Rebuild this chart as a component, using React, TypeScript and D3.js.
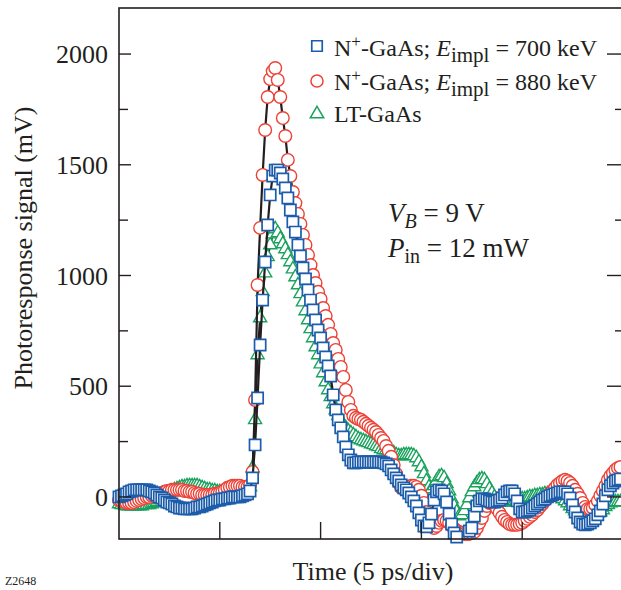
import React from "react";
import * as d3 from "d3";

// time step between samples (ps); traces start at t = 0
const dtPs = 0.125;

const xTicks = [5, 10, 15, 20];
const yTicks = [0, 500, 1000, 1500, 2000];
const yMinorTicks = [250, 750, 1250, 1750];

// N+-GaAs, E_impl = 700 keV (mV)
const blue700 = [
  0, 5, 9, 14, 23, 27, 32, 32, 32, 32,
  32, 32, 27, 23, 18, 9, 0, -5, -14, -23,
  -27, -32, -41, -45, -50, -50, -54, -54, -54, -54,
  -50, -45, -45, -41, -36, -32, -27, -23, -18, -14,
  -14, -9, -9, -5, -5, 0, 0, 0, 0, 5,
  9, 14, 27, 86, 235, 447, 686, 889, 1061, 1228,
  1364, 1449, 1476, 1476, 1463, 1436, 1395, 1350, 1296, 1242,
  1196, 1138, 1088, 1034, 984, 935, 889, 844, 799, 754,
  718, 673, 632, 591, 546, 461, 393, 348, 312, 271,
  226, 190, 167, 154, 154, 158, 158, 158, 158, 158,
  158, 158, 158, 158, 158, 154, 149, 140, 122, 104,
  86, 72, 54, 41, 32, 18, 0, -18, -41, -72,
  -104, -131, -135, -117, -77, -14, 23, 32, 27, 14,
  -23, -77, -122, -163, -181, -230, -260, -250, -215, -154,
  -140, -86, -41, -18, -9, -9, -14, -18, -23, -23,
  -18, -14, -5, 9, 23, 27, 27, 14, -18, -54,
  -68, -68, -63, -59, -50, -41, -32, -23, -14, -9,
  0, 5, 9, 14, 18, 23, 23, 23, 14, -5,
  -36, -68, -95, -113, -122, -126, -122, -117, -108, -99,
  -81, -63, -32, 5, 32, 50, 63, 72, 77, 81,
];

// N+-GaAs, E_impl = 880 keV (mV)
const red880 = [
  -14, -18, -23, -27, -27, -27, -23, -18, -14, -9,
  -5, 0, 0, 5, 5, 9, 14, 18, 23, 27,
  27, 32, 32, 32, 32, 32, 27, 27, 23, 23,
  18, 14, 14, 9, 9, 9, 9, 9, 14, 14,
  18, 23, 32, 41, 45, 50, 50, 50, 50, 45,
  45, 45, 54, 113, 438, 957, 1215, 1454, 1657, 1806,
  1887, 1923, 1937, 1883, 1806, 1711, 1630, 1522, 1449, 1377,
  1327, 1278, 1233, 1183, 1138, 1093, 1047, 1002, 966, 926,
  894, 853, 817, 777, 736, 695, 664, 623, 587, 542,
  483, 429, 393, 366, 357, 352, 348, 339, 330, 321,
  312, 303, 293, 280, 266, 253, 230, 208, 181, 144,
  104, 63, 41, 36, 41, 45, 50, 50, 45, 32,
  5, -27, -68, -108, -131, -140, -131, -117, -108, -104,
  -108, -117, -131, -144, -153, -158, -163, -167, -167, -167,
  -163, -158, -140, -117, -95, -63, -41, -27, -27, -36,
  -54, -72, -90, -104, -113, -122, -126, -126, -126, -122,
  -117, -108, -99, -90, -81, -68, -59, -45, -32, -18,
  -5, 14, 27, 41, 54, 63, 72, 77, 72, 63,
  50, 32, 14, -5, -27, -45, -54, -54, -50, -36,
  -18, 5, 27, 50, 77, 95, 108, 122, 131, 135,
];

// LT-GaAs (mV)
const greenLT = [
  -32, -36, -36, -41, -41, -41, -41, -41, -41, -41,
  -36, -36, -36, -32, -27, -23, -14, -9, 0, 9,
  18, 23, 32, 36, 41, 45, 45, 50, 50, 50,
  50, 50, 45, 41, 36, 32, 32, 27, 27, 23,
  23, 18, 18, 18, 18, 18, 18, 18, 18, 18,
  23, 27, 45, 131, 348, 641, 808, 926, 1011, 1084,
  1138, 1187, 1210, 1192, 1165, 1142, 1120, 1093, 1061, 1029,
  993, 957, 917, 880, 840, 799, 759, 718, 677, 641,
  600, 560, 519, 483, 452, 420, 393, 366, 343, 325,
  312, 298, 289, 280, 271, 262, 257, 253, 248, 244,
  239, 235, 230, 226, 217, 212, 212, 208, 203, 199,
  190, 185, 185, 190, 190, 190, 190, 185, 176, 158,
  135, 104, 72, 45, 36, 50, 72, 90, 95, 86,
  59, 27, -9, -41, -68, -86, -81, -63, -36, -5,
  23, 45, 63, 77, 81, 77, 59, 36, 18, 0,
  -14, -18, -23, -23, -23, -23, -18, -18, -14, -14,
  -9, -9, -5, 0, 0, 5, 5, 9, 9, 14,
  14, 14, 14, 9, 5, 0, -9, -18, -27, -41,
  -54, -63, -72, -77, -81, -81, -81, -81, -81, -77,
  -72, -68, -59, -45, -36, -27, -23, -23, -23, -23,
];

const INK = "#231f20";
const FONT = "'Liberation Serif', 'Times New Roman', serif";

const x = d3.scaleLinear().domain([0, 25]).range([119, 623]);
const y = d3.scaleLinear().domain([-190, 2208]).range([539, 8]);

const series = [
  { key: "lt", values: greenLT, color: "#1ba25f", symbol: d3.symbolTriangle, size: 74, sw: 1.4 },
  { key: "880", values: red880, color: "#ee4136", symbol: d3.symbolCircle, size: 125, sw: 1.4 },
  { key: "700", values: blue700, color: "#1c5dab", symbol: d3.symbolSquare, size: 125, sw: 1.7 },
];

const inside = (v: number) => v >= y.domain()[0];

const App = () => {
  const line = d3
    .line<number>()
    .defined((v) => inside(v))
    .x((_, i) => x(i * dtPs))
    .y((v) => y(v));

  return (
    <svg
      width={621}
      height={590}
      style={{ position: "absolute", left: 0, top: 0, background: "#fff" }}
      fontFamily={FONT}
      fill={INK}
    >
      {/* data */}
      {series.map((s) => {
        const sym = d3.symbol().type(s.symbol).size(s.size)();
        return (
          <g key={s.key}>
            <path d={line(s.values) || ""} fill="none" stroke={INK} strokeWidth={2.2} />
            {s.values.map((v, i) =>
              inside(v) ? (
                <path
                  key={i}
                  d={sym || ""}
                  transform={`translate(${x(i * dtPs)},${y(v)})`}
                  fill="#fff"
                  stroke={s.color}
                  strokeWidth={s.sw}
                />
              ) : null
            )}
          </g>
        );
      })}

      {/* frame */}
      <rect x={119} y={8} width={504} height={531} fill="none" stroke={INK} strokeWidth={1.6} />

      {/* y ticks */}
      {yTicks.map((t) => (
        <g key={t}>
          <line x1={119} x2={131} y1={y(t)} y2={y(t)} stroke={INK} strokeWidth={1.4} />
          <line x1={607} x2={623} y1={y(t)} y2={y(t)} stroke={INK} strokeWidth={1.4} />
          <text x={108} y={y(t)} dy="0.35em" textAnchor="end" fontSize={26}>
            {t}
          </text>
        </g>
      ))}
      {yMinorTicks.map((t) => (
        <g key={t}>
          <line x1={119} x2={128} y1={y(t)} y2={y(t)} stroke={INK} strokeWidth={1.4} />
          <line x1={615} x2={623} y1={y(t)} y2={y(t)} stroke={INK} strokeWidth={1.4} />
        </g>
      ))}

      {/* x ticks */}
      {xTicks.map((t) => (
        <line key={t} x1={x(t)} x2={x(t)} y1={539} y2={522} stroke={INK} strokeWidth={1.4} />
      ))}

      {/* axis titles */}
      <text transform="translate(32,248) rotate(-90)" textAnchor="middle" fontSize={26}>
        Photoresponse signal (mV)
      </text>
      <text x={373} y={580} textAnchor="middle" fontSize={26}>
        Time (5 ps/div)
      </text>
      <text x={5} y={585} fontSize={12}>
        Z2648
      </text>

      {/* legend */}
      <g fontSize={24}>
        <path
          d={d3.symbol().type(d3.symbolSquare).size(110)() || ""}
          transform="translate(317,46)"
          fill="#fff"
          stroke="#1c5dab"
          strokeWidth={1.7}
        />
        <text x={334} y={56}>
          N<tspan dy={-9} fontSize={17}>+</tspan>
          <tspan dy={9}>-GaAs; </tspan>
          <tspan fontStyle="italic">E</tspan>
          <tspan dy={6} fontSize={21}>impl</tspan>
          <tspan dy={-6}> = 700 keV</tspan>
        </text>
        <path
          d={d3.symbol().type(d3.symbolCircle).size(115)() || ""}
          transform="translate(317,81)"
          fill="#fff"
          stroke="#ee4136"
          strokeWidth={1.5}
        />
        <text x={334} y={90}>
          N<tspan dy={-9} fontSize={17}>+</tspan>
          <tspan dy={9}>-GaAs; </tspan>
          <tspan fontStyle="italic">E</tspan>
          <tspan dy={6} fontSize={21}>impl</tspan>
          <tspan dy={-6}> = 880 keV</tspan>
        </text>
        <path
          d={d3.symbol().type(d3.symbolTriangle).size(78)() || ""}
          transform="translate(317,114)"
          fill="#fff"
          stroke="#1ba25f"
          strokeWidth={1.5}
        />
        <text x={334} y={122}>LT-GaAs</text>
      </g>

      {/* conditions */}
      <g fontSize={27}>
        <text x={388} y={222}>
          <tspan fontStyle="italic">V</tspan>
          <tspan dy={6} fontSize={20} fontStyle="italic">B</tspan>
          <tspan dy={-6}> = 9 V</tspan>
        </text>
        <text x={388} y={257}>
          <tspan fontStyle="italic">P</tspan>
          <tspan dy={6} fontSize={20}>in</tspan>
          <tspan dy={-6}> = 12 mW</tspan>
        </text>
      </g>
    </svg>
  );
};

export default App;
